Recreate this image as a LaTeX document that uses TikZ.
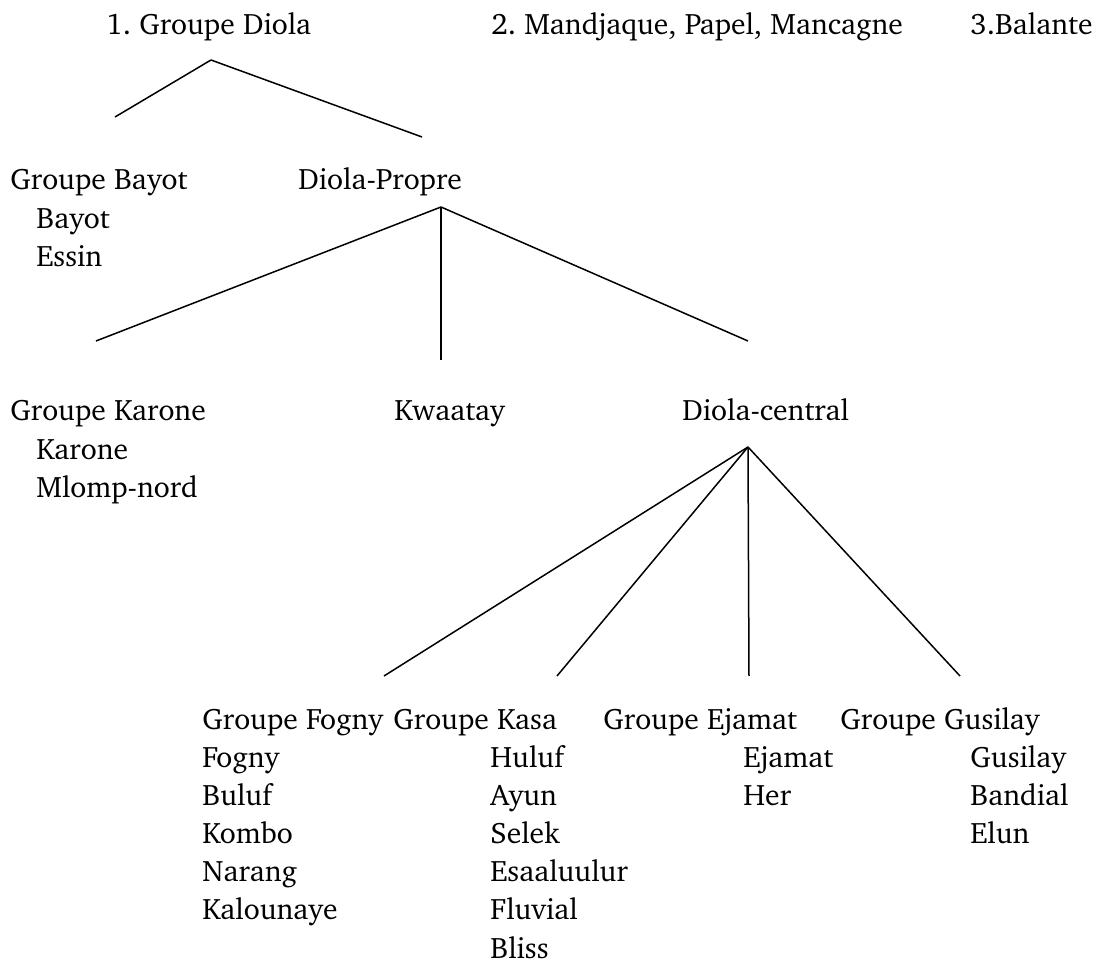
\documentclass[tikz,border=0pt]{standalone}
\usepackage[T1]{fontenc}
\usepackage{charter}
\usetikzlibrary{positioning}
\frenchspacing
\tikzset{
  lbl/.style={anchor=base west,inner sep=0pt,font=\fontsize{14.8}{19}\selectfont},
  member/.style={lbl},
  branch/.style={draw=black,line width=0.75pt},
}

\begin{document}
\begin{tikzpicture}[x=0.5pt,y=-0.5pt]
  \useasboundingbox (0,0) rectangle (1094,962);
  % top row
  \node[lbl] (diola) at (106,35) {1. Groupe Diola};
  \node[lbl] (mandjaque) at (491,35) {2. Mandjaque, Papel, Mancagne};
  \node[lbl] (balante) at (970,35) {3.Balante};
  % level 2
  \node[lbl] (bayot) at (10,190) {Groupe Bayot};
  \node[lbl] (propre) at (298,190) {Diola-Propre};
  \foreach \w [count=\i] in {Bayot,Essin}
    \node[member] (bayot-\i) at (36,190+\i*38.5) {\w};
  % level 3
  \node[lbl] (karone) at (10,421) {Groupe Karone};
  \node[lbl] (kwaatay) at (394,421) {Kwaatay};
  \node[lbl] (central) at (682,421) {Diola-central};
  \foreach \w [count=\i] in {Karone,Mlomp-nord}
    \node[member] (karone-\i) at (36,421+\i*38.5) {\w};
  % level 4
  \node[lbl] (fogny) at (202,730) {Groupe Fogny};
  \node[lbl] (kasa) at (393,730) {Groupe Kasa};
  \node[lbl] (ejamat) at (603,730) {Groupe Ejamat};
  \node[lbl] (gusilay) at (840,730) {Groupe Gusilay};
  \foreach \w [count=\i] in {Fogny,Buluf,Kombo,Narang,Kalounaye}
    \node[member] (fogny-\i) at (202,730+\i*38) {\w};
  \foreach \w [count=\i] in {Huluf,Ayun,Selek,Esaaluulur,Fluvial,Bliss}
    \node[member] (kasa-\i) at (490,730+\i*38) {\w};
  \foreach \w [count=\i] in {Ejamat,Her}
    \node[member] (ejamat-\i) at (743,730+\i*38) {\w};
  \foreach \w [count=\i] in {Gusilay,Bandial,Elun}
    \node[member] (gusilay-\i) at (970,730+\i*38) {\w};
  % forks and branch ends
  \coordinate (diola-fork) at (211,60);
  \coordinate (bayot-top) at (115,117);
  \coordinate (propre-top) at (422,137);
  \coordinate (propre-fork) at (441,207);
  \coordinate (karone-top) at (96,341);
  \coordinate (kwaatay-top) at (441,360);
  \coordinate (central-top) at (748,341);
  \coordinate (central-fork) at (748,447);
  \coordinate (fogny-top) at (384,676);
  \coordinate (kasa-top) at (557,676);
  \coordinate (ejamat-top) at (749,676);
  \coordinate (gusilay-top) at (960,676);
  \foreach \c in {bayot,propre}
    \draw[branch] (diola-fork) -- (\c-top);
  \foreach \c in {karone,kwaatay,central}
    \draw[branch] (propre-fork) -- (\c-top);
  \foreach \c in {fogny,kasa,ejamat,gusilay}
    \draw[branch] (central-fork) -- (\c-top);
\end{tikzpicture}
\end{document}
